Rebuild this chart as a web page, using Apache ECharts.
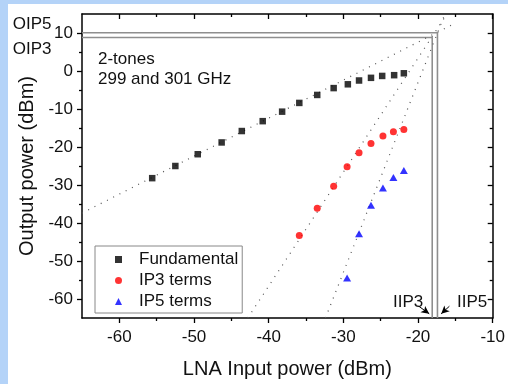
<!DOCTYPE html>
<html>
<head>
<meta charset="utf-8">
<script src="https://cdn.jsdelivr.net/npm/echarts@6/dist/echarts.min.js"></script>
<style>
  html, body { margin: 0; padding: 0; width: 508px; height: 384px; overflow: hidden; background: #b4d3f8; }
  #chart { position: absolute; left: 8px; top: 4px; width: 500px; height: 380px; background: #ffffff; }
</style>
</head>
<body>
<div id="chart"></div>
<script>
// ---- data ----
const seriesNames = ['Fundamental', 'IP3 terms', 'IP5 terms'];
const fundX = [-55.6, -52.5, -49.5, -46.3, -43.6, -40.8, -38.2, -35.9, -33.5, -31.3, -29.4, -27.9, -26.3, -24.8, -23.2, -21.9];
const fundY = [-28.2, -25.0, -21.9, -18.8, -15.8, -13.2, -10.7, -8.4, -6.3, -4.5, -3.5, -2.5, -1.8, -1.3, -1.1, -0.6];
const ip3X = [-35.9, -33.5, -31.3, -29.5, -27.9, -26.3, -24.7, -23.3, -21.9];
const ip3Y = [-43.3, -36.1, -30.3, -25.2, -21.5, -19.1, -17.1, -16.0, -15.4];
const ip5X = [-29.5, -27.9, -26.3, -24.7, -23.3, -21.9];
const ip5Y = [-54.5, -42.8, -35.3, -30.8, -28.0, -26.2];
// extrapolation lines (end points)
const fundFitX = [-65, -14.9];
const fundFitY = [-37.4, 12.7];
const ip3FitX = [-42.8, -16.3];
const ip3FitY = [-65, 14.5];
const ip5FitX = [-32.4, -16.4];
const ip5FitY = [-65, 15];
// intercept points
const iip3 = -18.1, oip3 = 8.8;
const iip5 = -17.4, oip5 = 10.05;
// axis ticks
const xMajor = [-60, -50, -40, -30, -20, -10];
const xMinor = [-55, -45, -35, -25, -15];
const yMajor = [-60, -50, -40, -30, -20, -10, 0, 10];
const yMinor = [-55, -45, -35, -25, -15, -5, 5];
const xRange = [-65, -10];
const yRange = [-65, 15];

const zip = (a, b) => a.map((v, i) => [v, b[i]]);
const FONT = "'Liberation Sans', Arial, sans-serif";
const TXT = '#111';

function xAx(pos, ticks, len, inside, showLine, showLabel) {
  return {
    type: 'value', position: pos, min: xRange[0], max: xRange[1], interval: 5,
    axisLine: { show: showLine, onZero: false, lineStyle: { color: '#000', width: 1.5 } },
    axisTick: { show: true, inside: inside, length: len, customValues: ticks, lineStyle: { color: '#000', width: 1.3 } },
    axisLabel: { show: showLabel, customValues: xMajor, margin: 11, fontSize: 17, fontFamily: FONT, color: TXT,
      formatter: v => (v % 10 === 0 ? String(v) : '') },
    splitLine: { show: false }
  };
}
function yAx(pos, ticks, len, inside, showLine, showLabel) {
  return {
    type: 'value', position: pos, min: yRange[0], max: yRange[1], interval: 5,
    axisLine: { show: showLine, onZero: false, lineStyle: { color: '#000', width: 1.5 } },
    axisTick: { show: true, inside: inside, length: len, customValues: ticks, lineStyle: { color: '#000', width: 1.3 } },
    axisLabel: { show: showLabel, customValues: yMajor, margin: 9, fontSize: 17, fontFamily: FONT, color: TXT,
      formatter: v => (v % 10 === 0 ? String(v) : '') },
    splitLine: { show: false }
  };
}

const xAxes = [
  Object.assign(xAx('bottom', xMajor, 5, false, true, true), {
    name: 'LNA Input power (dBm)', nameLocation: 'middle', nameGap: 41,
    nameTextStyle: { fontSize: 20, fontFamily: FONT, color: TXT }
  }),
  xAx('bottom', xMinor, 3, false, false, false),
  xAx('top', xMajor, 5, true, true, false),
  xAx('top', xMinor, 3, true, false, false)
];
const yAxes = [
  Object.assign(yAx('left', yMajor, 5, false, true, true), {
    name: 'Output power (dBm)', nameLocation: 'middle', nameGap: 44, nameRotate: 90,
    nameTextStyle: { fontSize: 20, fontFamily: FONT, color: TXT }
  }),
  yAx('left', yMinor, 3, false, false, false),
  yAx('right', yMajor, 5, true, true, false),
  yAx('right', yMinor, 3, true, false, false)
];

const dotted = { color: '#555', width: 1.2, type: [1, 6] };
const refLine = { color: '#8e8e8e', width: 1.6, type: 'solid' };

const option = {
  animation: false,
  backgroundColor: '#ffffff',
  grid: { left: 74, right: 10, top: 10, bottom: 63, containLabel: false },
  xAxis: xAxes,
  yAxis: yAxes,
  legend: {
    orient: 'vertical', left: 87, top: 242,
    data: seriesNames,
    itemWidth: 7, itemHeight: 7, itemGap: 4,
    padding: [5, 4, 3, 20],
    borderColor: '#888', borderWidth: 1, backgroundColor: '#fff',
    textStyle: { fontSize: 17, fontFamily: FONT, color: TXT, padding: [0, 0, 0, 12] }
  },
  series: [
    { type: 'line', data: zip([xRange[0], iip5, iip5], [oip5, oip5, yRange[0]]), showSymbol: false, lineStyle: refLine, silent: true, z: 1 },
    { type: 'line', data: zip([xRange[0], iip3, iip3], [oip3, oip3, yRange[0]]), showSymbol: false, lineStyle: refLine, silent: true, z: 1 },
    { type: 'line', data: zip(fundFitX, fundFitY), showSymbol: false, lineStyle: dotted, silent: true, z: 1 },
    { type: 'line', data: zip(ip3FitX, ip3FitY), showSymbol: false, lineStyle: dotted, silent: true, z: 1 },
    { type: 'line', data: zip(ip5FitX, ip5FitY), showSymbol: false, lineStyle: dotted, silent: true, z: 1,
      markLine: {
        silent: true, symbol: ['none', 'arrow'], symbolSize: [6, 8],
        lineStyle: { color: '#000', width: 1, type: 'solid' }, label: { show: false },
        data: [
          [{ coord: [-19.9, -61.9] }, { coord: [-18.5, -63.9] }],
          [{ coord: [-15.8, -61.9] }, { coord: [-16.9, -63.9] }]
        ]
      }
    },
    { name: seriesNames[0], type: 'scatter', data: zip(fundX, fundY), symbol: 'rect', symbolSize: 6.5, itemStyle: { color: '#000' }, z: 5 },
    { name: seriesNames[1], type: 'scatter', data: zip(ip3X, ip3Y), symbol: 'circle', symbolSize: 7, itemStyle: { color: '#ff0000' }, z: 5 },
    { name: seriesNames[2], type: 'scatter', data: zip(ip5X, ip5Y), symbol: 'triangle', symbolSize: [8, 7], itemStyle: { color: '#0000ff' }, z: 5 }
  ],
  graphic: [
    { type: 'text', left: 4.7, top: 12, style: { text: 'OIP5', font: '17px ' + FONT, fill: TXT } },
    { type: 'text', left: 4.7, top: 37, style: { text: 'OIP3', font: '17px ' + FONT, fill: TXT } },
    { type: 'text', left: 90, top: 47, style: { text: '2-tones', font: '17px ' + FONT, fill: TXT } },
    { type: 'text', left: 90, top: 67, style: { text: '299 and 301 GHz', font: '17px ' + FONT, fill: TXT } },
    { type: 'text', left: 385, top: 290, style: { text: 'IIP3', font: '17px ' + FONT, fill: TXT } },
    { type: 'text', left: 449, top: 290, style: { text: 'IIP5', font: '17px ' + FONT, fill: TXT } }
  ]
};

const chart = echarts.init(document.getElementById('chart'), null, { renderer: 'canvas' });
chart.setOption(option);
</script>
</body>
</html>
